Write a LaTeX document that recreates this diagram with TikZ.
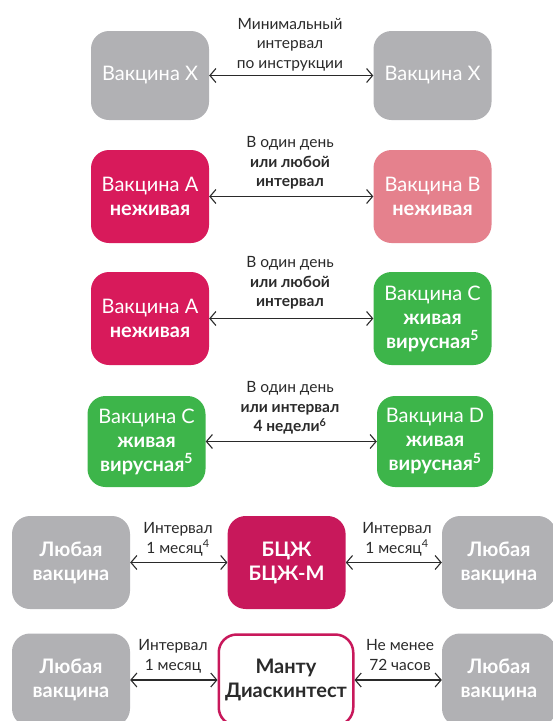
\documentclass[tikz,border=0pt]{standalone}
\usepackage{fontspec}
\setmainfont{Lato}
\usetikzlibrary{arrows.meta}
\definecolor{vgray}{HTML}{B1B1B4}
\definecolor{crim}{HTML}{D81A5B}
\definecolor{vpink}{HTML}{E5818D}
\definecolor{vgreen}{HTML}{3DB54A}
\definecolor{bcg}{HTML}{C8185B}
\definecolor{txt}{HTML}{2A2A2A}
\begin{document}
\begin{tikzpicture}[x=1pt,y=-1pt,
 box/.style={rounded corners=18pt, minimum width=118pt, minimum height=92pt, inner sep=0pt, align=center, text=white, font=\fontsize{20}{24}\selectfont},
 lbl/.style={align=center, anchor=base, text=txt, font=\fontsize{15.5}{19.5}\selectfont},
 link/.style={draw=txt, line width=1.1pt, {Straight Barb[length=6pt,width=14pt]}-{Straight Barb[length=6pt,width=14pt]}}]
\useasboundingbox (0,0) rectangle (553,721);
\clip (0,0) rectangle (553,721);
% row 1
\node[box,fill=vgray,minimum height=89pt] (x1) at (150,75.5) {Вакцина X};
\node[box,fill=vgray,minimum height=89pt] (x2) at (432.5,75.5) {Вакцина X};
\draw[link] (x1.east) -- (x2.west);
\node[lbl] (t1) at (290,68) {Минимальный\\интервал\\по инструкции};
% row 2
\node[box,fill=crim,minimum height=93pt] (a2) at (150,196.5) {Вакцина A\\\textbf{неживая}};
\node[box,fill=vpink,minimum height=93pt] (b2) at (432.5,196.5) {Вакцина B\\\textbf{неживая}};
\draw[link] (a2.east) -- (b2.west);
\node[lbl] (t2) at (290,186.7) {В один день\\\textbf{или любой}\\\textbf{интервал}};
% row 3
\node[box,fill=crim,minimum height=93pt] (a3) at (150,318.5) {Вакцина A\\\textbf{неживая}};
\node[box,fill=vgreen,minimum height=93pt] (c3) at (432.5,318.5) {Вакцина C\\\textbf{живая}\\\textbf{вирусная\textsuperscript{5}}};
\draw[link] (a3.east) -- (c3.west);
\node[lbl] (t3) at (290,306.7) {В один день\\\textbf{или любой}\\\textbf{интервал}};
% row 4
\node[box,fill=vgreen,minimum height=91pt] (c4) at (146.5,441.5) {Вакцина C\\\textbf{живая}\\\textbf{вирусная\textsuperscript{5}}};
\node[box,fill=vgreen,minimum height=91pt,minimum width=116pt] (d4) at (435,441.5) {Вакцина D\\\textbf{живая}\\\textbf{вирусная\textsuperscript{5}}};
\draw[link] (c4.east) -- (d4.west);
\node[lbl] (t4) at (290,431.7) {В один день\\\textbf{или интервал}\\\textbf{4 недели\textsuperscript{6}}};
% row 5
\node[box,fill=vgray,minimum height=93pt] (l5) at (71,562.5) {\textbf{Любая}\\\textbf{вакцина}};
\node[box,fill=bcg,minimum height=93pt] (m5) at (286.6,562.5) {\textbf{БЦЖ}\\\textbf{БЦЖ-М}};
\node[box,fill=vgray,minimum height=93pt,minimum width=114pt] (r5) at (499,562.5) {\textbf{Любая}\\\textbf{вакцина}};
\draw[link] (l5.east) -- (m5.west);
\draw[link] (m5.east) -- (r5.west);
\node[lbl] (t5a) at (178,553) {Интервал\\1 месяц\textsuperscript{4}};
\node[lbl] (t5b) at (397,553) {Интервал\\1 месяц\textsuperscript{4}};
% row 6
\node[box,fill=vgray,minimum height=93pt] (l6) at (71,680) {\textbf{Любая}\\\textbf{вакцина}};
\node[box,fill=white,draw=bcg,line width=2.5pt,text=txt,minimum height=91pt,minimum width=134.5pt] (m6) at (286,680) {\textbf{Манту}\\\textbf{Диаскинтест}};
\node[box,fill=vgray,minimum height=93pt,minimum width=114pt] (r6) at (499,680) {\textbf{Любая}\\\textbf{вакцина}};
\draw[link] (l6.east) -- (m6.west);
\draw[link] (m6.east) -- (r6.west);
\node[lbl] (t6a) at (173,670) {Интервал\\1 месяц};
\node[lbl] (t6b) at (400,670) {Не менее\\72 часов};
\end{tikzpicture}
\end{document}
